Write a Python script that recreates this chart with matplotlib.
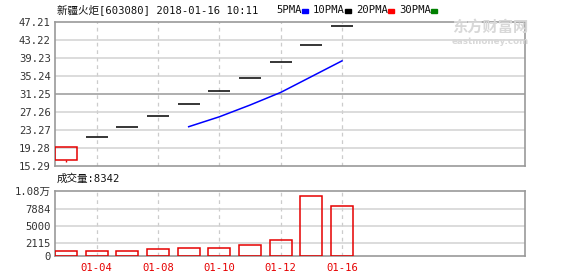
"""新疆火炬 日K线 + 成交量"""
import numpy as np
import matplotlib
matplotlib.use("Agg")
import matplotlib.pyplot as plt
import matplotlib.patches as mpatches

plt.rcParams["font.family"] = ["DejaVu Sans Mono", "Noto Sans CJK SC"]

dates = ["01-03", "01-04", "01-05", "01-08", "01-09",
         "01-10", "01-11", "01-12", "01-15", "01-16"]
opens  = [16.60, 21.75, 24.00, 26.40, 29.00, 31.85, 34.90, 38.40, 42.20, 46.30]
closes = [19.50, 21.75, 24.00, 26.40, 29.00, 31.85, 34.90, 38.40, 42.20, 46.30]
highs  = [19.50, 21.75, 24.00, 26.40, 29.00, 31.85, 34.90, 38.40, 42.20, 46.30]
lows   = [16.17, 21.75, 24.00, 26.40, 29.00, 31.85, 34.90, 38.40, 42.20, 46.30]
ma5    = [None, None, None, None, 24.0, 26.2, 28.8, 31.6, 35.1, 38.6]
volume = [780, 780, 780, 1110, 1330, 1330, 1770, 2600, 9920, 8342]

price_ticks = [15.29, 19.28, 23.27, 27.26, 31.25, 35.24, 39.23, 43.22, 47.21]
vol_ticks = [0, 2115, 5000, 7884, 10800]
vol_labels = ["0", "2115", "5000", "7884", "1.08万"]
tick_idx = [1, 3, 5, 7, 9]

RED = "#e60000"
GRID = "#d2d2d2"
FRAME = "#999999"
W, H = 578, 276

fig = plt.figure(figsize=(W / 100, H / 100), dpi=100)
ax1 = fig.add_axes([55 / W, 1 - 166 / H, 470 / W, 144 / H])
ax2 = fig.add_axes([55 / W, 1 - 256 / H, 470 / W, 65 / H])

x = np.arange(len(dates))
bw = 0.717
xlim = (-0.359, 14.966)

for ax in (ax1, ax2):
    ax.set_xlim(*xlim)
    for s in ax.spines.values():
        s.set_color(FRAME)
        s.set_linewidth(1.2)
    ax.tick_params(length=0, labelsize=7.6, colors="#333333", pad=3)
    for i in tick_idx:
        ax.axvline(i, color="#cccccc", lw=0.9, ls=(0, (3, 3)), zorder=0)

# 价格区
ax1.set_ylim(price_ticks[0], price_ticks[-1])
ax1.set_yticks(price_ticks)
ax1.set_yticklabels([f"{v:.2f}" for v in price_ticks])
ax1.set_xticks([])
for v in price_ticks[1:-1]:
    ax1.axhline(v, color=FRAME if v == 31.25 else GRID, lw=1.1, zorder=0)

for i in range(len(dates)):
    o, c = opens[i], closes[i]
    if c > o:
        ax1.vlines(x[i], lows[i], o, color=RED, lw=1)
        ax1.vlines(x[i], c, highs[i], color=RED, lw=1)
        ax1.bar(x[i], c - o, bw, bottom=o, fill=False, edgecolor=RED, lw=1.1, zorder=3)
    else:
        ax1.hlines(c, x[i] - bw / 2, x[i] + bw / 2, color="black", lw=1.1, zorder=3)

ma_x = [i for i, v in enumerate(ma5) if v is not None]
ma_y = [v for v in ma5 if v is not None]
ax1.plot(ma_x, ma_y, color="#0000ff", lw=1.1, zorder=4)

# 成交量区
ax2.set_ylim(0, 10800)
ax2.set_yticks(vol_ticks)
ax2.set_yticklabels(vol_labels)
for v in vol_ticks[1:-1]:
    ax2.axhline(v, color=GRID, lw=1.1, zorder=0)
ax2.bar(x, volume, bw, fill=False, edgecolor=RED, lw=1.1, zorder=3)
ax2.set_xticks(tick_idx)
ax2.set_xticklabels([dates[i] for i in tick_idx], color=RED)
ax2.tick_params(axis="x", pad=5)

# 标题、图例、水印
fig.text(57 / W, 1 - 9.5 / H, "新疆火炬[603080] 2018-01-16 10:11",
         fontsize=7.6, va="center", ha="left", color="#111111")
legend = [("5PMA", 276, 302, "#0000ff"), ("10PMA", 313, 345, "#000000"),
          ("20PMA", 356, 388, "#ff0000"), ("30PMA", 399, 431, "#008000")]
for name, tx, mx, col in legend:
    fig.text(tx / W, 1 - 10 / H, name, fontsize=7.6, va="center", ha="left", color="#111111")
    fig.patches.append(mpatches.Rectangle((mx / W, 1 - 12.5 / H), 6 / W, 3 / H,
                                          transform=fig.transFigure, color=col))
fig.text(57 / W, 1 - 179 / H, "成交量:8342", fontsize=7.6, va="center", ha="left",
         color="#111111")
fig.text(452 / W, 1 - 27 / H, "东方财富网", fontsize=11, va="center", ha="left",
         color="#d8d8d8", fontweight="bold", family="Noto Sans CJK SC")
fig.text(452 / W, 1 - 41 / H, "eastmoney.com", fontsize=6.3, va="center", ha="left",
         color="#d8d8d8", fontweight="bold", family="DejaVu Sans")

fig.savefig("out.png", dpi=100)
